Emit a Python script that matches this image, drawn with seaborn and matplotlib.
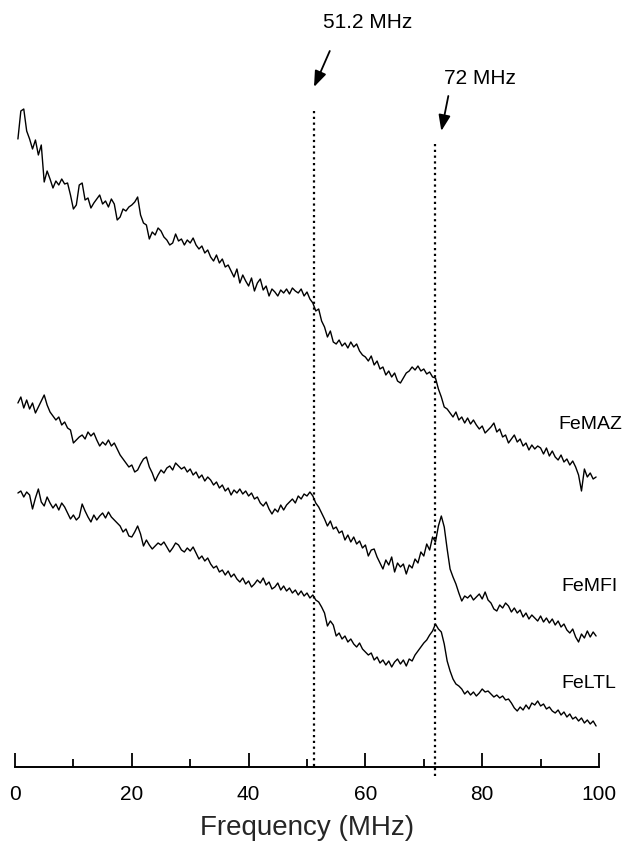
import numpy as np
import pandas as pd
import matplotlib
matplotlib.use("Agg")
import matplotlib.pyplot as plt
import seaborn as sns

# ---------------- data ----------------
# frequency grid (MHz) shared by the three spectra
freq = np.arange(0.5, 100.0, 0.5)

# vertical trace level (a.u., axis is drawn inverted: larger = lower on the page)
femaz = [140, 112, 110, 132, 140, 150, 141, 156, 146, 183, 172, 180, 189, 182, 186, 180, 185, 184, 196, 210,
         206, 186, 184, 201, 199, 209, 204, 200, 196, 205, 202, 208, 200, 205, 221, 218, 210, 212, 208, 206,
         203, 198, 216, 224, 226, 240, 233, 236, 229, 232, 238, 241, 246, 244, 235, 242, 240, 246, 241, 244,
         239, 246, 250, 247, 254, 251, 258, 262, 256, 264, 260, 268, 266, 272, 278, 270, 284, 276, 282, 287,
         279, 292, 284, 280, 291, 287, 297, 290, 293, 297, 291, 294, 290, 295, 289, 292, 294, 290, 297, 293,
         300, 304, 312, 310, 322, 328, 338, 332, 343, 345, 341, 347, 344, 349, 343, 348, 345, 352, 356, 358,
         362, 357, 366, 362, 370, 368, 376, 372, 378, 374, 382, 384, 379, 374, 372, 368, 371, 367, 372, 370,
         375, 373, 378, 379, 390, 398, 408, 410, 414, 418, 413, 421, 418, 424, 419, 425, 421, 426, 430, 427,
         434, 431, 428, 424, 433, 430, 438, 436, 444, 440, 436, 443, 440, 447, 444, 451, 446, 450, 447, 449,
         455, 449, 457, 452, 458, 461, 456, 463, 460, 466, 462, 468, 476, 492, 470, 478, 474, 480, 478]

femfi = [404, 398, 409, 401, 410, 404, 414, 408, 402, 396, 406, 413, 417, 421, 418, 426, 423, 429, 431, 444,
         441, 438, 436, 440, 433, 437, 434, 441, 447, 443, 446, 441, 447, 444, 450, 456, 460, 464, 468, 466,
         473, 471, 465, 460, 458, 468, 474, 482, 476, 471, 474, 469, 467, 471, 464, 467, 470, 468, 473, 470,
         476, 473, 479, 476, 482, 478, 481, 486, 483, 489, 486, 492, 489, 496, 491, 494, 490, 495, 492, 497,
         494, 500, 498, 504, 507, 503, 510, 515, 510, 513, 506, 511, 506, 503, 500, 504, 497, 500, 495, 497,
         493, 497, 504, 508, 514, 520, 527, 522, 530, 528, 534, 532, 541, 536, 543, 538, 545, 542, 549, 546,
         557, 551, 550, 558, 564, 570, 561, 566, 558, 573, 564, 568, 565, 575, 566, 569, 560, 564, 553, 557,
         545, 551, 538, 543, 527, 517, 528, 550, 570, 578, 585, 594, 602, 597, 599, 596, 601, 598, 595, 600,
         593, 601, 604, 610, 612, 606, 609, 604, 607, 613, 609, 614, 611, 618, 614, 620, 616, 619, 622, 617,
         623, 619, 624, 620, 626, 622, 628, 625, 631, 634, 630, 638, 643, 635, 639, 632, 638, 633, 637]

feltl = [494, 492, 498, 493, 496, 510, 499, 490, 503, 507, 498, 504, 509, 505, 511, 504, 508, 514, 520, 516,
         521, 518, 505, 512, 518, 523, 516, 521, 517, 514, 519, 513, 518, 521, 524, 527, 533, 530, 537, 538,
         533, 527, 535, 547, 541, 546, 550, 547, 544, 546, 543, 548, 553, 549, 544, 546, 551, 553, 549, 552,
         548, 554, 560, 557, 562, 559, 565, 569, 567, 573, 571, 576, 572, 578, 575, 580, 583, 579, 585, 582,
         588, 585, 581, 584, 579, 586, 583, 590, 588, 584, 591, 587, 592, 589, 594, 591, 596, 592, 597, 594,
         599, 596, 601, 603, 608, 614, 627, 622, 626, 637, 634, 640, 637, 643, 640, 645, 648, 644, 650, 653,
         656, 654, 661, 658, 664, 661, 666, 662, 668, 663, 660, 665, 661, 667, 660, 662, 656, 652, 648, 644,
         641, 636, 632, 625, 630, 633, 645, 662, 672, 680, 685, 687, 690, 695, 692, 696, 693, 697, 694, 690,
         693, 692, 695, 698, 696, 699, 697, 701, 700, 704, 709, 712, 708, 711, 706, 710, 704, 706, 702, 707,
         705, 710, 708, 712, 714, 711, 716, 713, 718, 715, 720, 718, 722, 719, 724, 721, 725, 722, 727]

sample_names = ["FeMAZ", "FeMFI", "FeLTL"]
label_freq = [93.0, 93.6, 93.6]
label_level = [425, 587, 684]

marker_freqs = [51.2, 72.0]
marker_texts = ["51.2 MHz", "72 MHz"]
marker_line_top = [112, 145]
marker_line_bottom = [770, 778]
arrow_tail = [(53.9, 52), (74.2, 97)]
arrow_head = [(51.2, 88), (73.0, 132)]
text_pos = [(60.4, 22), (79.6, 78)]

x_ticks_major = [0, 20, 40, 60, 80, 100]
x_ticks_minor = [10, 30, 50, 70, 90]

# ---------------- plot ----------------
sns.set_theme(style="white")
plt.rcParams["font.family"] = ["Liberation Sans", "DejaVu Sans"]

W, H = 624, 845
fig = plt.figure(figsize=(W / 100, H / 100), dpi=100)
ax_left, ax_right, ax_bottom_px = 15, 599, 768
ax = fig.add_axes([ax_left / W, 1 - ax_bottom_px / H, (ax_right - ax_left) / W, ax_bottom_px / H])

df = pd.concat([
    pd.DataFrame({"Frequency": freq, "level": vals, "sample": name})
    for name, vals in zip(sample_names, [femaz, femfi, feltl])
])
for name in sample_names:
    sub = df[df["sample"] == name]
    sns.lineplot(data=sub, x="Frequency", y="level", color="black", linewidth=1.0,
                 ax=ax, legend=False, estimator=None)

ax.set_xlim(0, 100)
ax.set_ylim(768, 0)

# dotted marker lines, arrows and texts
for f, top, bot, tail, head, tp, txt in zip(marker_freqs, marker_line_top, marker_line_bottom,
                                             arrow_tail, arrow_head, text_pos, marker_texts):
    ax.vlines(f, top, bot, colors="black", linestyles=(0, (1.0, 1.6)), linewidth=1.6, clip_on=False)
    ax.annotate("", xy=head, xytext=tail,
                arrowprops=dict(arrowstyle="-|>,head_length=0.8,head_width=0.3", color="black",
                                lw=1.3, shrinkA=0, shrinkB=0))
    ax.text(tp[0], tp[1], txt, ha="center", va="center", fontsize=15, color="black")

for name, lf, ll in zip(sample_names, label_freq, label_level):
    ax.text(lf, ll, name, ha="left", va="center", fontsize=14, color="black", clip_on=False)

# axes styling
for s in ["left", "right", "top"]:
    ax.spines[s].set_visible(False)
ax.spines["bottom"].set_linewidth(1.4)
ax.spines["bottom"].set_color("black")
ax.set_yticks([])
ax.set_xticks(x_ticks_major)
ax.set_xticks(x_ticks_minor, minor=True)
ax.tick_params(axis="x", which="major", direction="in", length=10, width=1.3, colors="black",
               labelsize=15, pad=12, bottom=True)
ax.tick_params(axis="x", which="minor", direction="in", length=6, width=1.3, colors="black", bottom=True)
ax.set_xlabel("Frequency (MHz)", fontsize=20, labelpad=8)
ax.set_ylabel("")
ax.patch.set_alpha(0)

fig.savefig("out.png", dpi=100)
